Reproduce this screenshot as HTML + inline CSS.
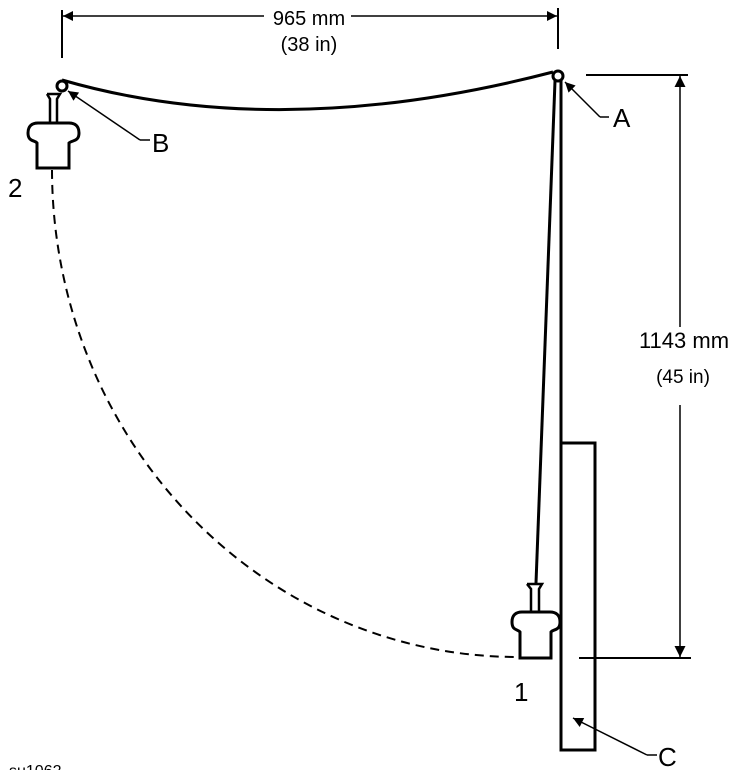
<!DOCTYPE html>
<html><head><style>html,body{margin:0;padding:0;background:#fff}svg{display:block}</style></head>
<body>
<svg width="736" height="770" viewBox="0 0 736 770" xmlns="http://www.w3.org/2000/svg" font-family="Liberation Sans, sans-serif">
<defs>
<marker id="ar" viewBox="0 0 10 10" refX="10" refY="5" markerWidth="18" markerHeight="10" markerUnits="userSpaceOnUse" orient="auto"><path d="M0,0 L10,5 L0,10 Z" fill="#000"/></marker>
<marker id="ar2" viewBox="0 0 10 10" refX="10" refY="5" markerWidth="20" markerHeight="11" markerUnits="userSpaceOnUse" orient="auto"><path d="M0,0 L10,5 L0,10 Z" fill="#000"/></marker>
</defs>
<g stroke="#000" fill="none">
<line x1="62" y1="10" x2="62" y2="58" stroke-width="2"/>
<line x1="558" y1="8" x2="558" y2="49" stroke-width="2"/>
<line x1="264" y1="16" x2="63" y2="16" stroke-width="1.5" marker-end="url(#ar)"/>
<line x1="351" y1="16" x2="557" y2="16" stroke-width="1.5" marker-end="url(#ar)"/>
<line x1="586" y1="75" x2="688" y2="75" stroke-width="2"/>
<line x1="579" y1="658" x2="691" y2="658" stroke-width="2"/>
<line x1="680" y1="327" x2="680" y2="76" stroke-width="1.5" marker-end="url(#ar2)"/>
<line x1="680" y1="405" x2="680" y2="657" stroke-width="1.5" marker-end="url(#ar2)"/>
<path d="M62,80 Q280,143 553,72" stroke-width="3"/>
<line x1="555" y1="81" x2="536" y2="583" stroke-width="3"/>
<line x1="561" y1="80" x2="561" y2="443" stroke-width="3"/>
<rect x="561" y="443" width="34" height="307" stroke-width="3"/>
<circle cx="558" cy="76" r="5" stroke-width="3" fill="#fff"/>
<circle cx="62" cy="86" r="5" stroke-width="3" fill="#fff"/>
<path d="M47,94 H60 L57,99 V123 M50,123 V99 L47,94" stroke-width="2.5"/>
<path d="M37,168 V143 C35,140 28,142 28,133 C28,126 32,123 38,123 H69 C75,123 79,126 79,133 C79,142 72,140 69,143 V168 Z" stroke-width="3"/>
<path d="M527,584 H542 L539,589 V612 M531,612 V589 L527,584" stroke-width="2.5"/>
<path d="M520,658 V632 C518,629 512,631 512,622 C512,615 516,612 522,612 H550 C556,612 560,615 560,622 C560,631 553,629 551,632 V658 Z" stroke-width="3" fill="#fff"/>
<path d="M52,170 A466,488 0 0 0 518,657" stroke-width="2" stroke-dasharray="9,6"/>
<polyline points="140,140 150,140" stroke-width="1.5"/>
<line x1="140" y1="140" x2="68" y2="91" stroke-width="1.5" marker-end="url(#ar)"/>
<polyline points="600,117 609,117" stroke-width="1.5"/>
<line x1="600" y1="117" x2="565" y2="82" stroke-width="1.5" marker-end="url(#ar)"/>
<polyline points="647,755 657,755" stroke-width="1.5"/>
<line x1="647" y1="755" x2="573" y2="718" stroke-width="1.5" marker-end="url(#ar)"/>
</g>
<g fill="#000">
<text x="309" y="25" font-size="20" text-anchor="middle">965 mm</text>
<text x="309" y="51" font-size="20" text-anchor="middle">(38 in)</text>
<text x="684" y="348" font-size="22" text-anchor="middle">1143 mm</text>
<text x="683" y="383" font-size="19" text-anchor="middle">(45 in)</text>
<text x="152" y="152" font-size="26">B</text>
<text x="613" y="127" font-size="26">A</text>
<text x="658" y="766" font-size="26">C</text>
<text x="8" y="197" font-size="26">2</text>
<text x="514" y="701" font-size="26">1</text>
<text x="9" y="776" font-size="16">su1062</text>
</g>
</svg>
</body></html>
